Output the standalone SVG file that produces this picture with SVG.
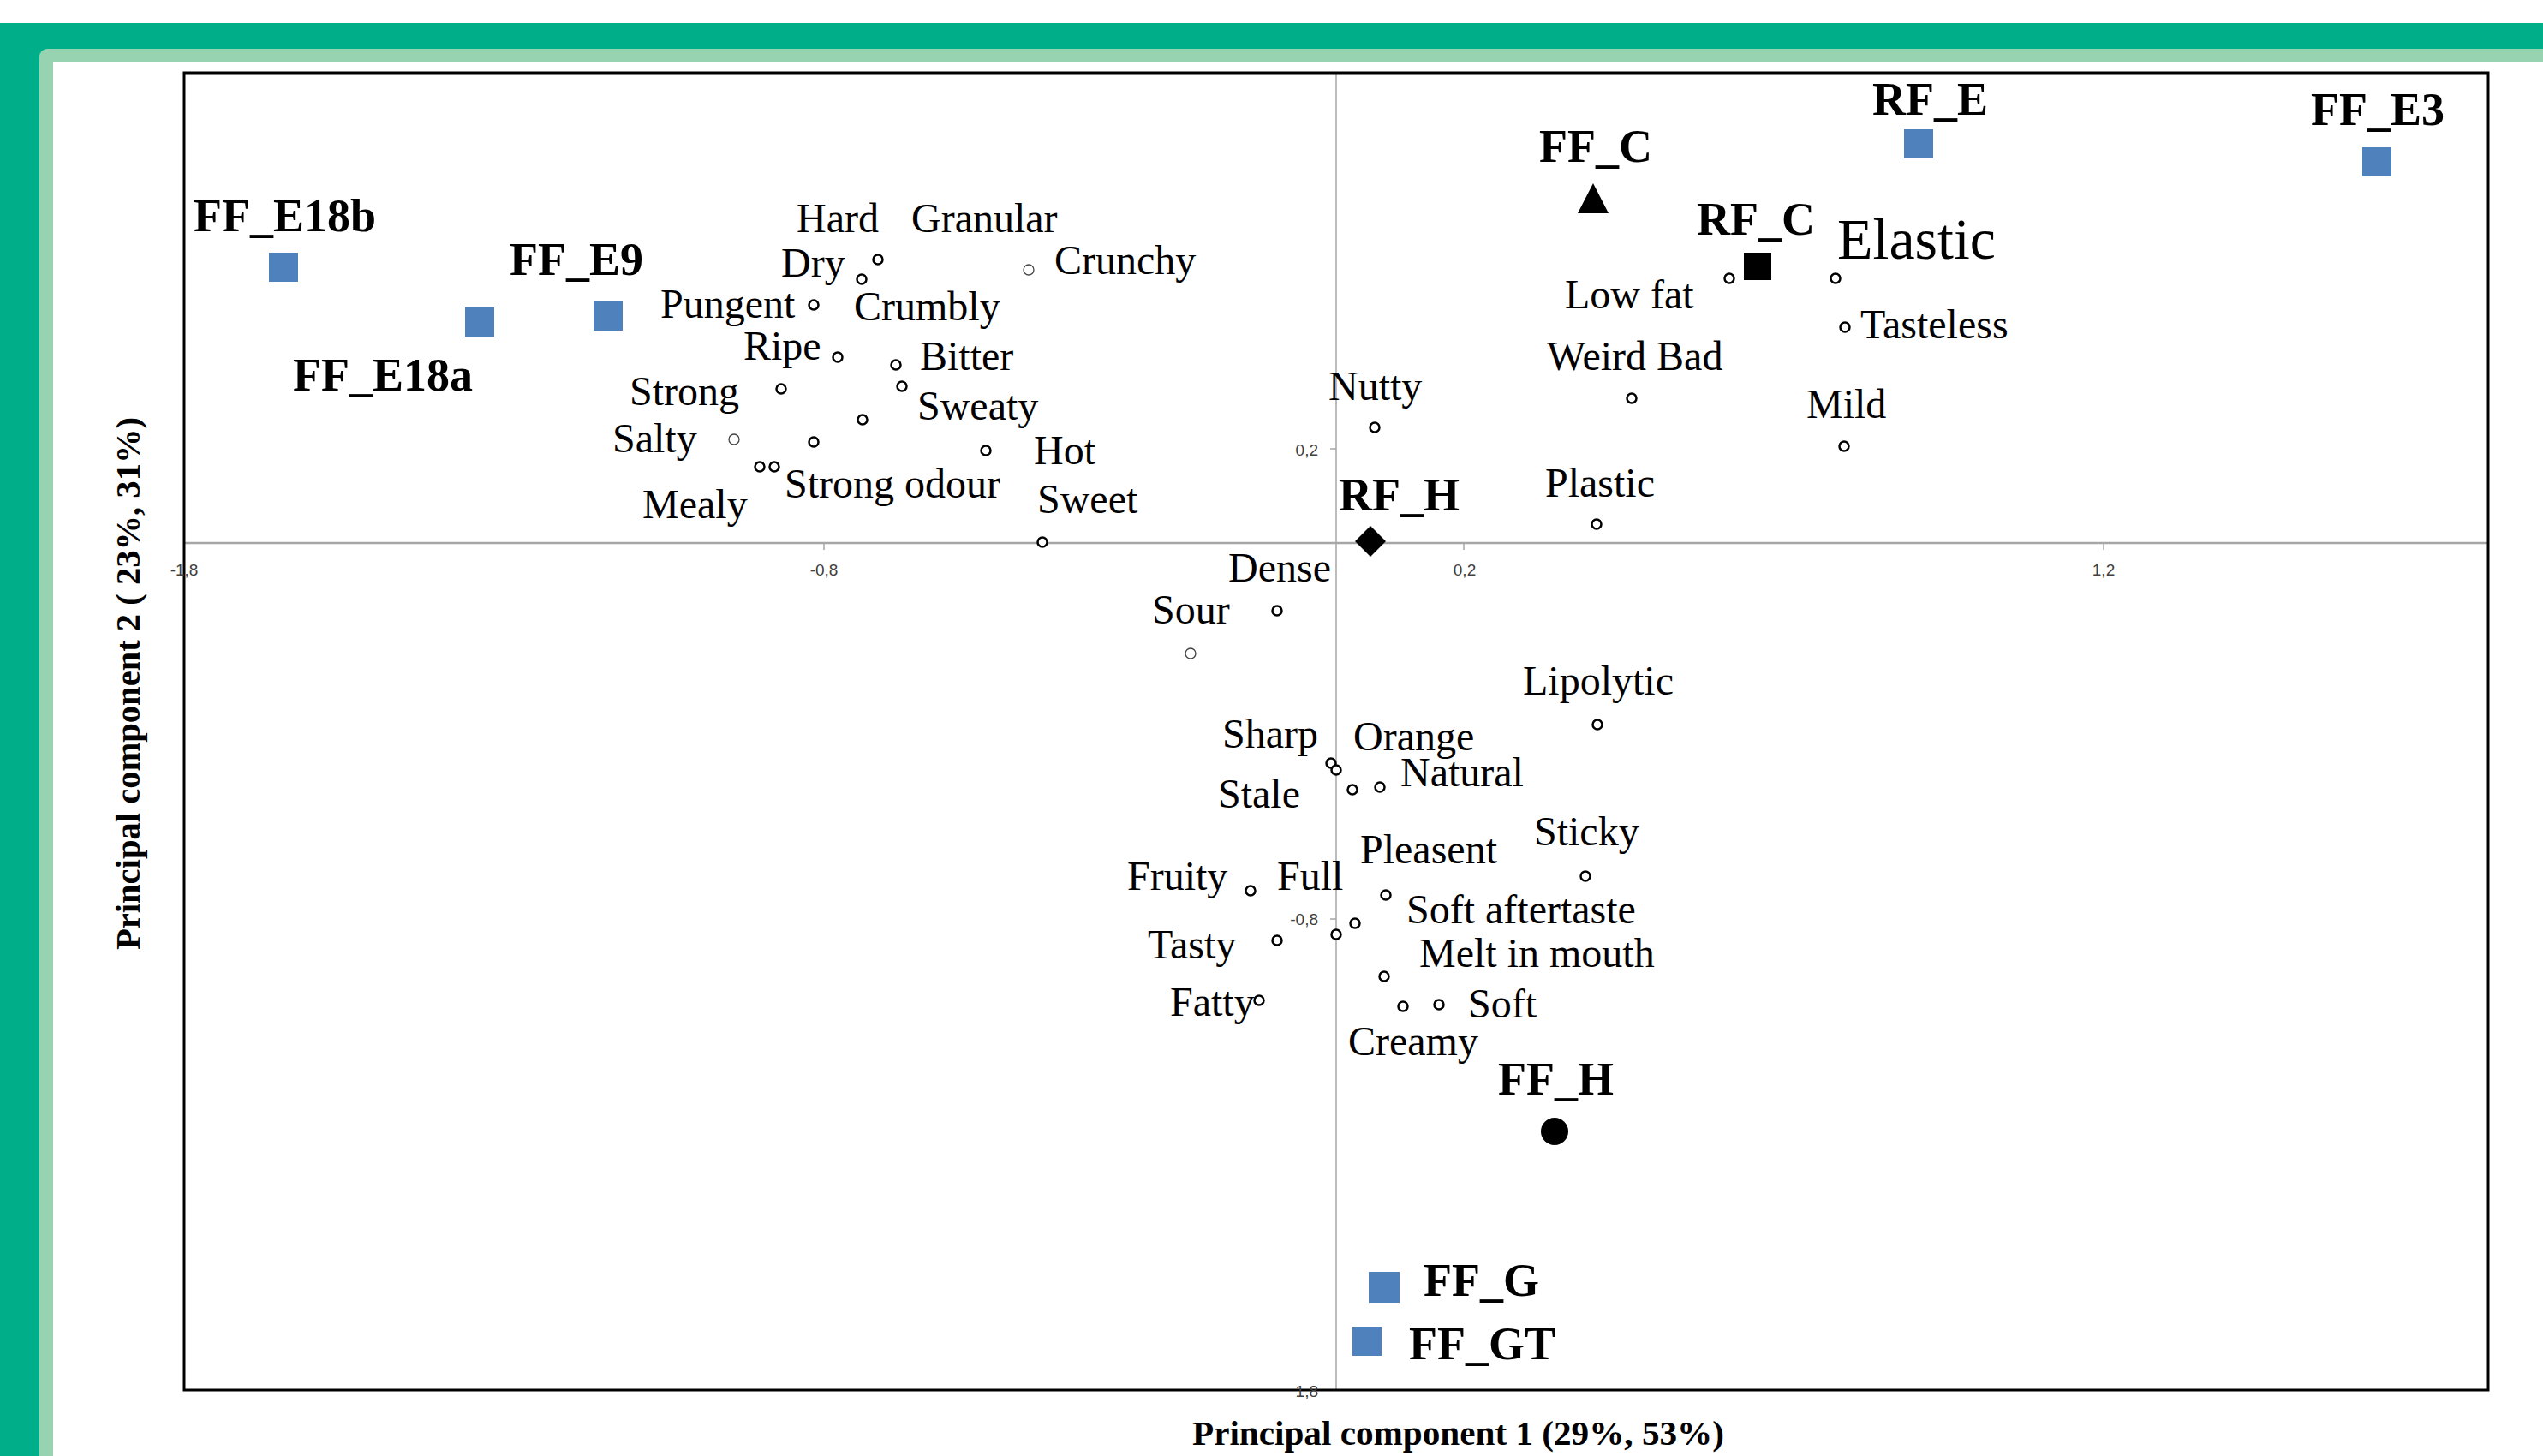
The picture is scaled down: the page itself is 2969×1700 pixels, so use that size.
<svg xmlns="http://www.w3.org/2000/svg" width="2969" height="1700" viewBox="0 0 2969 1700">
<style>
.lbl{font-family:"Liberation Serif","Times New Roman",serif;font-size:48px;fill:#000}
.smp{font-family:"Liberation Serif","Times New Roman",serif;font-size:54px;font-weight:bold;fill:#000}
.ttl{font-family:"Liberation Serif","Times New Roman",serif;font-size:40px;font-weight:bold;fill:#000}
.tick{font-family:"Liberation Sans",Arial,sans-serif;font-size:19px;fill:#404040}
.a{fill:#fff;stroke:#000;stroke-width:2.5}
.t{fill:#fff;stroke:#444;stroke-width:1.3}
.blue{fill:#4F81BD}
</style>
<rect x="0" y="0" width="2969" height="1700" fill="#fff"/>
<g id="frame">
<rect x="0" y="27" width="2969" height="1673" fill="#00AF8A"/>
<rect x="46" y="57" width="2940" height="1660" rx="9" fill="#97D3B1"/>
<rect x="62" y="72" width="2907" height="1628" fill="#fff"/>
</g>
<g id="axes">
<line x1="215" y1="634" x2="2905" y2="634" stroke="#A6A6A6" stroke-width="2.5"/>
<line x1="1560" y1="85" x2="1560" y2="1623" stroke="#A6A6A6" stroke-width="1.5"/>
<g stroke="#A6A6A6" stroke-width="1.5">
<line x1="962" y1="634" x2="962" y2="642"/>
<line x1="1709" y1="634" x2="1709" y2="642"/>
<line x1="2456" y1="634" x2="2456" y2="642"/>
<line x1="1553" y1="524" x2="1560" y2="524"/>
<line x1="1553" y1="1073" x2="1560" y2="1073"/>
</g>
<rect x="215" y="85" width="2690" height="1538" fill="none" stroke="#000" stroke-width="3"/>
<text class="tick" x="215" y="672" text-anchor="middle">-1,8</text>
<text class="tick" x="962" y="672" text-anchor="middle">-0,8</text>
<text class="tick" x="1710" y="672" text-anchor="middle">0,2</text>
<text class="tick" x="2456" y="672" text-anchor="middle">1,2</text>
<text class="tick" x="1539" y="532" text-anchor="end">0,2</text>
<text class="tick" x="1539" y="1080" text-anchor="end">-0,8</text>
<text class="tick" x="1539" y="1631" text-anchor="end">1,8</text>
<text class="ttl" x="1392" y="1687" textLength="621" lengthAdjust="spacingAndGlyphs">Principal component 1 (29%, 53%)</text>
<text class="ttl" transform="translate(163,798) rotate(-90)" text-anchor="middle" textLength="622" lengthAdjust="spacingAndGlyphs">Principal component 2 ( 23%, 31%)</text>
</g>
<g id="connectors"></g>
<g id="samples">
<g id="FF_E18b"><rect class="blue" x="314" y="295" width="34" height="34"/><text class="smp" x="226" y="270">FF_E18b</text></g>
<g id="FF_E9"><rect class="blue" x="693" y="352" width="34" height="34"/><text class="smp" x="595" y="321">FF_E9</text></g>
<g id="FF_E18a"><rect class="blue" x="543" y="359" width="34" height="34"/><text class="smp" x="342" y="456">FF_E18a</text></g>
<g id="FF_C"><polygon points="1860,214 1878,249 1842,249" fill="#000"/><text class="smp" x="1797" y="189">FF_C</text></g>
<g id="RF_E"><rect class="blue" x="2223" y="151" width="34" height="34"/><text class="smp" x="2186" y="134">RF_E</text></g>
<g id="FF_E3"><rect class="blue" x="2758" y="172" width="34" height="34"/><text class="smp" x="2698" y="146">FF_E3</text></g>
<g id="RF_C"><rect x="2036" y="295" width="32" height="32" fill="#000"/><text class="smp" x="1981" y="274">RF_C</text></g>
<g id="RF_H"><polygon points="1600,614 1618,632 1600,650 1582,632" fill="#000"/><text class="smp" x="1563" y="596">RF_H</text></g>
<g id="FF_H"><circle cx="1815" cy="1321" r="16" fill="#000"/><text class="smp" x="1749" y="1278">FF_H</text></g>
<g id="FF_G"><rect class="blue" x="1598" y="1485" width="36" height="36"/><text class="smp" x="1662" y="1513">FF_G</text></g>
<g id="FF_GT"><rect class="blue" x="1579" y="1549" width="34" height="34"/><text class="smp" x="1645" y="1587">FF_GT</text></g>
</g>
<g id="attributes">
<circle class="a" cx="1025" cy="303" r="5.5"/>
<circle class="a" cx="1006" cy="326" r="5.5"/>
<circle class="t" cx="1201" cy="315" r="6"/>
<circle class="a" cx="950" cy="356" r="5.5"/>
<circle class="a" cx="978" cy="417" r="5.5"/>
<circle class="a" cx="1046" cy="426" r="5.5"/>
<circle class="a" cx="1053" cy="451" r="5.5"/>
<circle class="a" cx="912" cy="454" r="5.5"/>
<circle class="a" cx="1007" cy="490" r="5.5"/>
<circle class="t" cx="857" cy="513" r="6"/>
<circle class="a" cx="950" cy="516" r="5.5"/>
<circle class="a" cx="1151" cy="526" r="5.5"/>
<circle class="a" cx="887" cy="545" r="5.5"/>
<circle class="a" cx="904" cy="545" r="5.5"/>
<circle class="a" cx="1217" cy="633" r="5.5"/>
<circle class="a" cx="1605" cy="499" r="5.5"/>
<circle class="a" cx="1905" cy="465" r="5.5"/>
<circle class="a" cx="2019" cy="325" r="5.5"/>
<circle class="a" cx="2143" cy="325" r="5.5"/>
<circle class="a" cx="2154" cy="382" r="5.5"/>
<circle class="a" cx="2153" cy="521" r="5.5"/>
<circle class="a" cx="1864" cy="612" r="5.5"/>
<circle class="a" cx="1491" cy="713" r="5.5"/>
<circle class="t" cx="1390" cy="763" r="6"/>
<circle class="a" cx="1865" cy="846" r="5.5"/>
<circle class="a" cx="1554" cy="891" r="5.5"/>
<circle class="a" cx="1560" cy="899" r="5.5"/>
<circle class="a" cx="1579" cy="922" r="5.5"/>
<circle class="a" cx="1611" cy="919" r="5.5"/>
<circle class="a" cx="1851" cy="1023" r="5.5"/>
<circle class="a" cx="1460" cy="1040" r="5.5"/>
<circle class="a" cx="1618" cy="1045" r="5.5"/>
<circle class="a" cx="1582" cy="1078" r="5.5"/>
<circle class="a" cx="1560" cy="1091" r="5.5"/>
<circle class="a" cx="1491" cy="1098" r="5.5"/>
<circle class="a" cx="1616" cy="1140" r="5.5"/>
<circle class="a" cx="1470" cy="1168" r="5.5"/>
<circle class="a" cx="1638" cy="1175" r="5.5"/>
<circle class="a" cx="1680" cy="1173" r="5.5"/>
<text class="lbl" x="930" y="271">Hard</text>
<text class="lbl" x="1064" y="271">Granular</text>
<text class="lbl" x="1231" y="320">Crunchy</text>
<text class="lbl" x="912" y="323">Dry</text>
<text class="lbl" x="771" y="371">Pungent</text>
<text class="lbl" x="997" y="374">Crumbly</text>
<text class="lbl" x="868" y="420">Ripe</text>
<text class="lbl" x="1074" y="432">Bitter</text>
<text class="lbl" x="735" y="473">Strong</text>
<text class="lbl" x="1071" y="490">Sweaty</text>
<text class="lbl" x="715" y="528">Salty</text>
<text class="lbl" x="1207" y="542">Hot</text>
<text class="lbl" x="916" y="581">Strong odour</text>
<text class="lbl" x="750" y="605">Mealy</text>
<text class="lbl" x="1211" y="599">Sweet</text>
<text class="lbl" x="1551" y="467">Nutty</text>
<text class="lbl" x="1806" y="432">Weird Bad</text>
<text class="lbl" x="1827" y="360">Low fat</text>
<text class="lbl" x="2145" y="302" style="font-size:68px">Elastic</text>
<text class="lbl" x="2172" y="395">Tasteless</text>
<text class="lbl" x="2109" y="488">Mild</text>
<text class="lbl" x="1804" y="580">Plastic</text>
<text class="lbl" x="1434" y="679">Dense</text>
<text class="lbl" x="1345" y="728">Sour</text>
<text class="lbl" x="1778" y="811">Lipolytic</text>
<text class="lbl" x="1427" y="873">Sharp</text>
<text class="lbl" x="1580" y="876">Orange</text>
<text class="lbl" x="1635" y="918">Natural</text>
<text class="lbl" x="1422" y="943">Stale</text>
<text class="lbl" x="1791" y="987">Sticky</text>
<text class="lbl" x="1588" y="1008">Pleasent</text>
<text class="lbl" x="1316" y="1039">Fruity</text>
<text class="lbl" x="1491" y="1039">Full</text>
<text class="lbl" x="1642" y="1078">Soft aftertaste</text>
<text class="lbl" x="1340" y="1119">Tasty</text>
<text class="lbl" x="1657" y="1129">Melt in mouth</text>
<text class="lbl" x="1366" y="1186">Fatty</text>
<text class="lbl" x="1714" y="1188">Soft</text>
<text class="lbl" x="1574" y="1232">Creamy</text>
</g>
</svg>
